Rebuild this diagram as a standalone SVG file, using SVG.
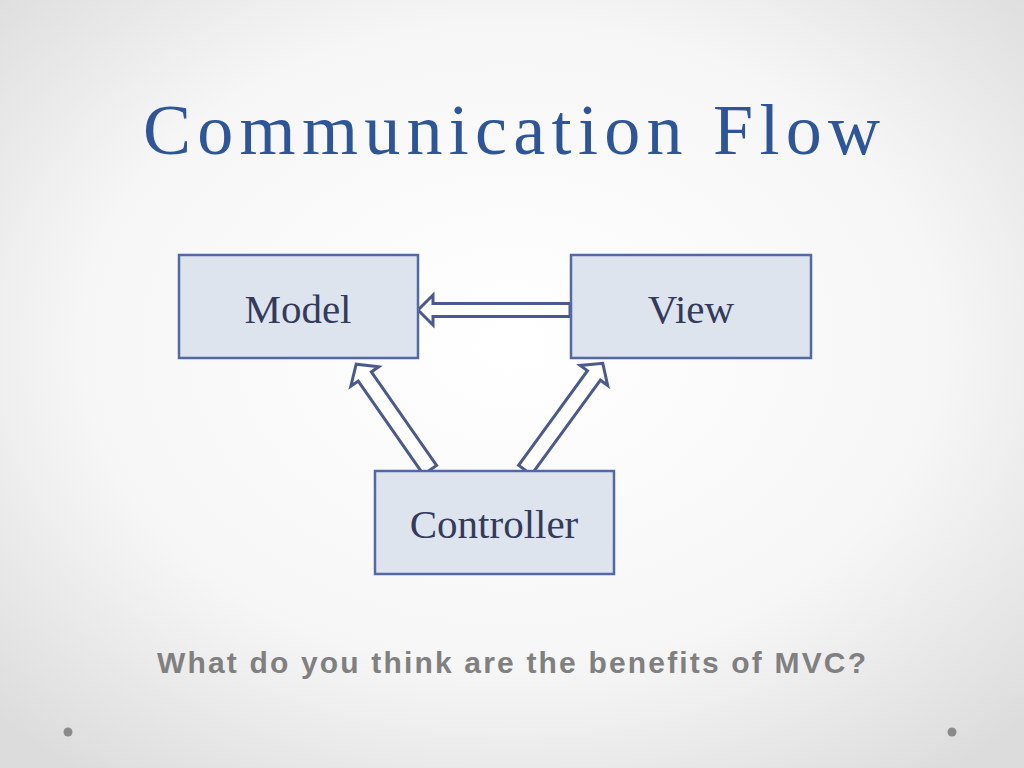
<svg xmlns="http://www.w3.org/2000/svg" width="1024" height="768" viewBox="0 0 1024 768">
<defs>
<radialGradient id="bg" cx="50%" cy="45%" r="70%"><stop offset="0" stop-color="#ffffff"/><stop offset="0.6" stop-color="#f6f6f6"/><stop offset="1" stop-color="#dcdcdc"/></radialGradient>
<style>
.box{fill:#dde4ee;stroke:#5169a6;stroke-width:2.5}
.lbl{font-family:"Liberation Serif",serif;font-size:41px;fill:#333a5c;text-anchor:middle}
.arr{fill:#ffffff;stroke:#4a5a8f;stroke-width:3;stroke-linejoin:miter}
</style>
</defs>
<rect width="1024" height="768" fill="url(#bg)"/>
<text x="143" y="154" font-family="'Liberation Serif',serif" font-size="72" fill="#2e5597" textLength="737" lengthAdjust="spacing">Communication Flow</text>
<g id="connectors">
<polygon class="arr" transform="translate(570,310) rotate(180)" points="0,-6.5 137,-6.5 137,-15 152,0 137,15 137,6.5 0,6.5"/>
<polygon class="arr" transform="translate(430,470) rotate(235.1)" points="0,-8 114,-8 114,-17 129,0 114,17 114,8 0,8"/>
<polygon class="arr" transform="translate(525,470) rotate(-53.9)" points="0,-8 117,-8 117,-17 132,0 117,17 117,8 0,8"/>
</g>
<g id="model"><rect class="box" x="179" y="255" width="239" height="103"/><text class="lbl" x="298" y="323">Model</text></g>
<g id="view"><rect class="box" x="571" y="255" width="240" height="103"/><text class="lbl" x="691" y="323">View</text></g>
<g id="controller"><rect class="box" x="375" y="471" width="239" height="103"/><text class="lbl" x="494" y="538">Controller</text></g>
<text x="157" y="673" font-family="'Liberation Sans',sans-serif" font-weight="bold" font-size="30" fill="#808080" textLength="709" lengthAdjust="spacing">What do you think are the benefits of MVC?</text>
<circle cx="68" cy="732" r="4.5" fill="#8a8a8a"/>
<circle cx="952" cy="732" r="4.5" fill="#8a8a8a"/>
</svg>
